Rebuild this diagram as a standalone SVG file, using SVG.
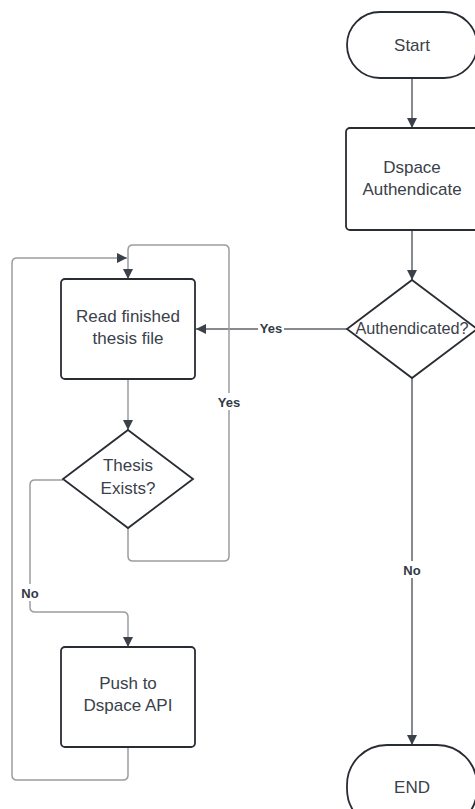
<svg xmlns="http://www.w3.org/2000/svg" width="475" height="809" viewBox="0 0 475 809">
<defs>
<style>
.shape{fill:#ffffff;stroke:#282c33;stroke-width:1.8}
.t{font-family:"Liberation Sans",Arial,sans-serif;font-size:17px;fill:#3a414a;text-anchor:middle;dominant-baseline:central}
.ts{font-size:16.3px}
.lbl{font-family:"Liberation Sans",Arial,sans-serif;font-size:13px;font-weight:bold;fill:#333a45;text-anchor:middle;dominant-baseline:central}
.c{fill:none;stroke:#5f646b;stroke-width:1.5}
.cl{fill:none;stroke:#9a9da2;stroke-width:1.5}
</style>
<marker id="ah" viewBox="0 0 10 10" refX="10" refY="5" markerWidth="10" markerHeight="10" markerUnits="userSpaceOnUse" orient="auto">
<path d="M0,0 L10,5 L0,10 Z" fill="#3a414a"/>
</marker>
</defs>
<rect width="475" height="809" fill="#ffffff"/>
<g id="connectors">
<path class="c" d="M412,78 V128" marker-end="url(#ah)"/>
<path class="c" d="M412,230 V280" marker-end="url(#ah)"/>
<path class="c" d="M347,329 H196" marker-end="url(#ah)"/>
<path class="c" d="M412,378 V745" marker-end="url(#ah)"/>
<path class="cl" d="M128,379 V430" marker-end="url(#ah)"/>
<path class="cl" d="M128,528 V556 Q128,561 133,561 H224 Q229,561 229,556 V250 Q229,245 224,245 H133 Q128,245 128,250 V279" marker-end="url(#ah)"/>
<path class="cl" d="M63,480 H35 Q30,480 30,485 V607 Q30,612 35,612 H123 Q128,612 128,617 V647" marker-end="url(#ah)"/>
<path class="cl" d="M128,747 V775 Q128,780 123,780 H17 Q12,780 12,775 V263 Q12,258 17,258 H127" marker-end="url(#ah)"/>
<rect x="258" y="319" width="26" height="17" fill="#ffffff"/>
<text class="lbl" x="271" y="328">Yes</text>
<rect x="216" y="393" width="26" height="17" fill="#ffffff"/>
<text class="lbl" x="229" y="402">Yes</text>
<rect x="19" y="584" width="22" height="17" fill="#ffffff"/>
<text class="lbl" x="30" y="593">No</text>
<rect x="401" y="561" width="22" height="17" fill="#ffffff"/>
<text class="lbl" x="412" y="570">No</text>
</g>
<g id="start">
<rect class="shape" x="347" y="12" width="130" height="66" rx="33"/>
<text class="t" x="412" y="45">Start</text>
</g>
<g id="dspace-auth">
<rect class="shape" x="346" y="128" width="134" height="102" rx="4"/>
<text class="t" x="412" y="167">Dspace</text>
<text class="t" x="412" y="189">Authendicate</text>
</g>
<g id="authenticated">
<path class="shape" d="M412,280 L477,329 L412,378 L347,329 Z"/>
<text class="t ts" x="412" y="328">Authendicated?</text>
</g>
<g id="read">
<rect class="shape" x="61" y="279" width="134" height="100" rx="4"/>
<text class="t" x="128" y="316">Read finished</text>
<text class="t" x="128" y="338">thesis file</text>
</g>
<g id="thesis-exists">
<path class="shape" d="M128,430 L193,479 L128,528 L63,479 Z"/>
<text class="t" x="128" y="465">Thesis</text>
<text class="t" x="128" y="488">Exists?</text>
</g>
<g id="push">
<rect class="shape" x="61" y="647" width="134" height="100" rx="4"/>
<text class="t" x="128" y="683">Push to</text>
<text class="t" x="128" y="705">Dspace API</text>
</g>
<g id="end">
<rect class="shape" x="347" y="745" width="130" height="84" rx="40"/>
<text class="t" x="412" y="787">END</text>
</g>
</svg>
